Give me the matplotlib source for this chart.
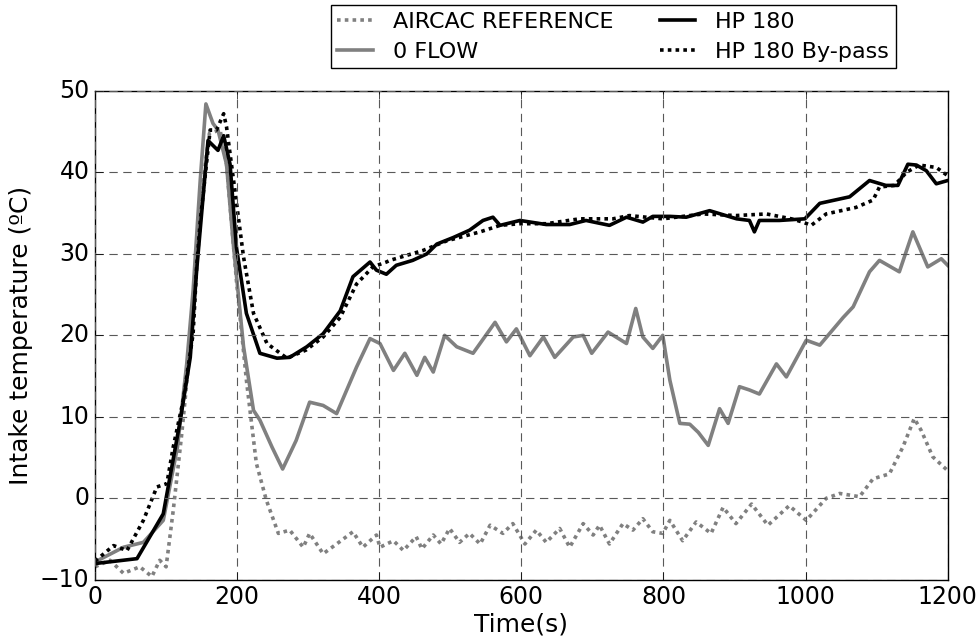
import matplotlib
matplotlib.use('Agg')
import matplotlib.pyplot as plt
import numpy as np

# AIRCAC REFERENCE (gray dotted)
t_ref = [0, 21, 40, 63, 80, 91, 100, 110, 122, 134, 143, 152, 161, 176, 185, 199, 213, 227,
         241, 258, 274, 293, 302, 321, 340, 363, 377, 396, 401, 420, 434, 452, 460, 476, 487,
         499, 513, 527, 542, 556, 574, 588, 605, 621, 635, 654, 668, 687, 701, 710, 724, 743,
         757, 771, 785, 799, 809, 827, 846, 867, 884, 902, 924, 947, 977, 1001, 1029, 1048,
         1076, 1095, 1118, 1137, 1153, 1163, 1179, 1200]
v_ref = [-8.4, -7.6, -9.2, -8.4, -9.6, -7.6, -8.4, -1.5, 7.9, 18.6, 28.4, 39, 44.8, 45.2, 41,
         26.7, 14.5, 4.3, -0.2, -4.3, -3.9, -6, -4.3, -6.8, -5.6, -4.1, -6, -4.5, -6, -5.2,
         -6.4, -4.7, -6.2, -4.5, -5.6, -3.7, -5.4, -4.3, -5.6, -3.3, -4.3, -3.1, -5.6, -3.9,
         -5.4, -3.7, -6, -3.1, -4.5, -3.3, -5.6, -3.1, -3.9, -2.5, -4.1, -4.3, -2.7, -5.2,
         -2.9, -4.3, -1.1, -3.1, -0.7, -3.3, -0.9, -2.7, 0, 0.6, 0.2, 2.4, 3, 6.3, 9.8, 8.3,
         5.1, 3.4]

# 0 FLOW (gray solid)
t_zero = [0, 40, 68, 96, 116, 129, 138, 148, 156, 166, 173, 185, 195, 209, 223, 232, 249, 264,
          283, 302, 321, 340, 368, 387, 401, 420, 436, 453, 464, 476, 492, 509, 532, 563, 579,
          593, 612, 631, 647, 673, 687, 699, 722, 748, 761, 771, 785, 799, 809, 823, 837, 849,
          863, 879, 891, 907, 921, 935, 959, 973, 1001, 1020, 1053, 1067, 1090, 1104, 1132,
          1151, 1172, 1191, 1200]
v_zero = [-7.8, -6, -5.4, -2.7, 6.3, 16.5, 25.5, 39, 48.4, 46, 45.2, 41, 30.8, 18.6, 10.8, 9.6,
          6.3, 3.6, 7.1, 11.8, 11.4, 10.4, 16.1, 19.6, 19, 15.7, 17.8, 15.1, 17.3, 15.5, 20,
          18.6, 17.8, 21.6, 19.2, 20.8, 17.5, 19.8, 17.3, 19.8, 20, 17.8, 20.4, 19, 23.3, 19.8,
          18.4, 20, 14.5, 9.2, 9.1, 8.1, 6.5, 11, 9.2, 13.7, 13.3, 12.8, 16.5, 14.9, 19.4, 18.8,
          22.2, 23.5, 27.8, 29.2, 27.8, 32.7, 28.4, 29.4, 28.6]

# HP 180 (black solid)
t_hp = [0, 59, 96, 120, 134, 143, 159, 173, 181, 190, 199, 213, 232, 256, 274, 298, 321, 345,
        363, 387, 396, 410, 424, 447, 467, 481, 504, 527, 546, 560, 570, 598, 635, 668, 691,
        724, 748, 771, 785, 809, 832, 865, 903, 921, 928, 935, 963, 999, 1020, 1062, 1090,
        1113, 1130, 1144, 1156, 1170, 1184, 1200]
v_hp = [-8, -7.4, -1.9, 9.6, 17.3, 28, 43.9, 42.7, 44.5, 41, 30.8, 22.7, 17.8, 17.2, 17.3,
        18.6, 20.2, 23, 27.2, 29, 28, 27.5, 28.6, 29.2, 30, 31.2, 32, 32.9, 34.1, 34.5, 33.5,
        34.1, 33.6, 33.6, 34.1, 33.5, 34.5, 33.9, 34.6, 34.6, 34.5, 35.3, 34.3, 34.1, 32.7,
        34.1, 34.1, 34.3, 36.2, 37, 39, 38.4, 38.4, 41, 40.9, 40.2, 38.6, 39]

# HP 180 By-pass (black dotted)
t_byp = [0, 26, 45, 68, 87, 101, 110, 124, 138, 143, 148, 162, 171, 181, 185, 195, 209, 223,
         242, 270, 297, 321, 345, 368, 391, 410, 415, 461, 495, 542, 570, 598, 635, 682, 729,
         752, 799, 856, 902, 945, 980, 996, 1008, 1029, 1071, 1095, 1104, 1125, 1142, 1160,
         1184, 1200]
v_byp = [-7.7, -5.8, -6.4, -2.7, 1.4, 1.8, 6.3, 12, 20.2, 28.4, 34, 45.2, 45.2, 47.2, 45.6,
         39, 29.6, 22.7, 19, 17.2, 18.2, 19.8, 22.2, 26.3, 28.4, 29, 29.2, 30.4, 31.6, 32.7,
         33.5, 33.7, 33.7, 34.3, 34.3, 34.7, 34.3, 34.9, 34.7, 34.9, 34.3, 33.9, 33.5, 34.9,
         35.7, 36.6, 38.2, 38.4, 40, 40.9, 40.6, 39.6]

plt.style.use('classic')
plt.rcParams['font.family'] = ['DejaVu Sans']
plt.rcParams['lines.scale_dashes'] = False

fig = plt.figure(figsize=(9.8, 6.4), dpi=100, facecolor='white')
ax = fig.add_axes([0.097, 0.094, 0.87, 0.764])

dots = (2.6, 3.0)
ax.plot(t_ref, v_ref, color='0.5', lw=2.6, dashes=dots, label='AIRCAC REFERENCE')
ax.plot(t_zero, v_zero, color='0.5', ls='-', lw=2.6, label='0 FLOW')
ax.plot(t_hp, v_hp, color='black', ls='-', lw=2.6, label='HP 180')
ax.plot(t_byp, v_byp, color='black', lw=2.6, dashes=dots, label='HP 180 By-pass')

ax.set_xlim(0, 1200)
ax.set_ylim(-10, 50)
ax.set_xticks(np.arange(0, 1201, 200))
ax.set_yticks(np.arange(-10, 51, 10))
ax.grid(True, color='0.35', ls='--', lw=0.8, dashes=(6, 4))
ax.tick_params(labelsize=17, direction='in', length=6)
ax.set_xlabel('Time(s)', fontsize=18, labelpad=2)
ax.set_ylabel('Intake temperature (ºC)', fontsize=18)

leg = ax.legend(loc='upper right', ncol=2, fontsize=16, fancybox=False,
                bbox_to_anchor=(896 / 980, 1 - 5 / 640), bbox_transform=fig.transFigure,
                borderaxespad=0, handlelength=1.6, numpoints=1, columnspacing=2.1,
                labelspacing=0.45, handletextpad=0.9, borderpad=0.3)
leg.get_frame().set_linewidth(1.0)

fig.savefig('out.png', dpi=100, facecolor='white')
